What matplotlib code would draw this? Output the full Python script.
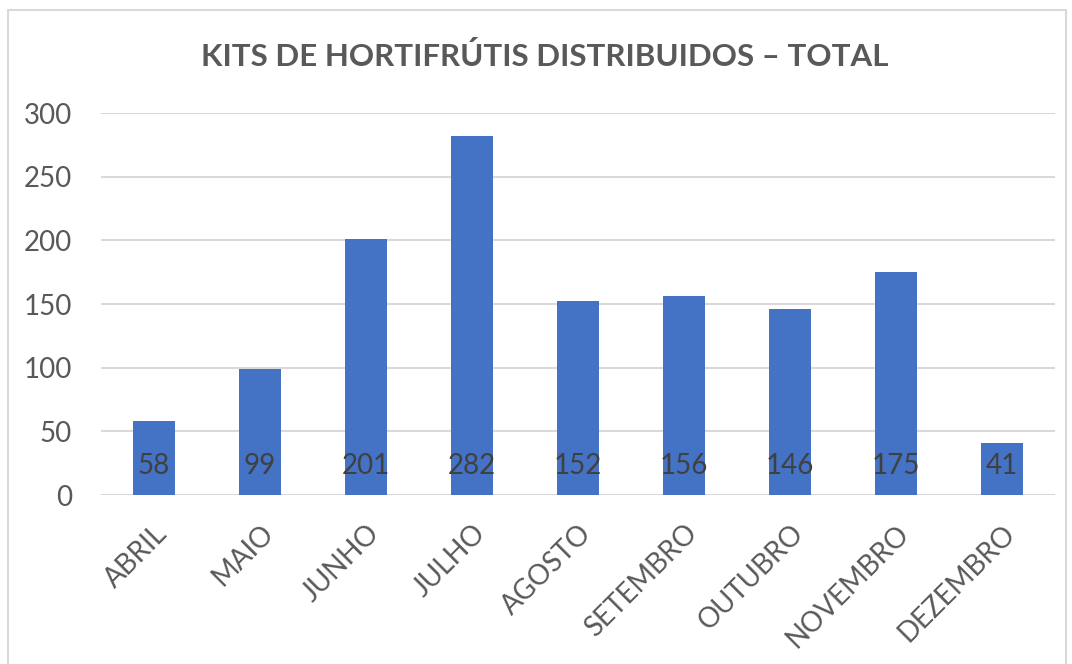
import matplotlib.pyplot as plt
from matplotlib.patches import Rectangle

meses = ['ABRIL', 'MAIO', 'JUNHO', 'JULHO', 'AGOSTO', 'SETEMBRO',
         'OUTUBRO', 'NOVEMBRO', 'DEZEMBRO']
kits = [58, 99, 201, 282, 152, 156, 146, 175, 41]
y_ticks = [0, 50, 100, 150, 200, 250, 300]

plt.rcParams['font.family'] = ['Lato', 'DejaVu Sans']

fig = plt.figure(figsize=(10.72, 6.64), dpi=100)
ax = fig.add_axes([0.0942, 0.2545, 0.8898, 0.5753])

# moldura do gráfico
fig.patches.append(Rectangle((8 / 1072, -0.01), 1058 / 1072, 1 - 10 / 664 + 0.01,
                             transform=fig.transFigure, fill=False,
                             edgecolor='#D9D9D9', linewidth=1.5))

x = list(range(len(meses)))
ax.bar(x, kits, width=0.4, color='#4472C4', zorder=3)

for xi, v in zip(x, kits):
    ax.annotate(str(v), (xi, 0), xytext=(0, 29), textcoords='offset pixels',
                ha='center', va='center', fontsize=20, color='#404040', zorder=4)

ax.set_xlim(-0.5, len(meses) - 0.5)
ax.set_ylim(0, 300)
ax.set_yticks(y_ticks)
ax.set_xticks(x)
ax.set_xticklabels(meses, rotation=45, ha='right', rotation_mode='anchor')
ax.tick_params(axis='both', length=0, labelsize=20, labelcolor='#595959')
ax.tick_params(axis='y', pad=21)
ax.tick_params(axis='x', pad=18)
ax.grid(axis='y', color='#D9D9D9', linewidth=1.5, zorder=0)
for s in ax.spines.values():
    s.set_visible(False)

fig.text(0.508, 0.915, 'KITS DE HORTIFRÚTIS DISTRIBUIDOS – TOTAL', ha='center',
         va='center', fontsize=22.5, fontweight='bold', color='#595959')

fig.savefig('out.png', dpi=100)
